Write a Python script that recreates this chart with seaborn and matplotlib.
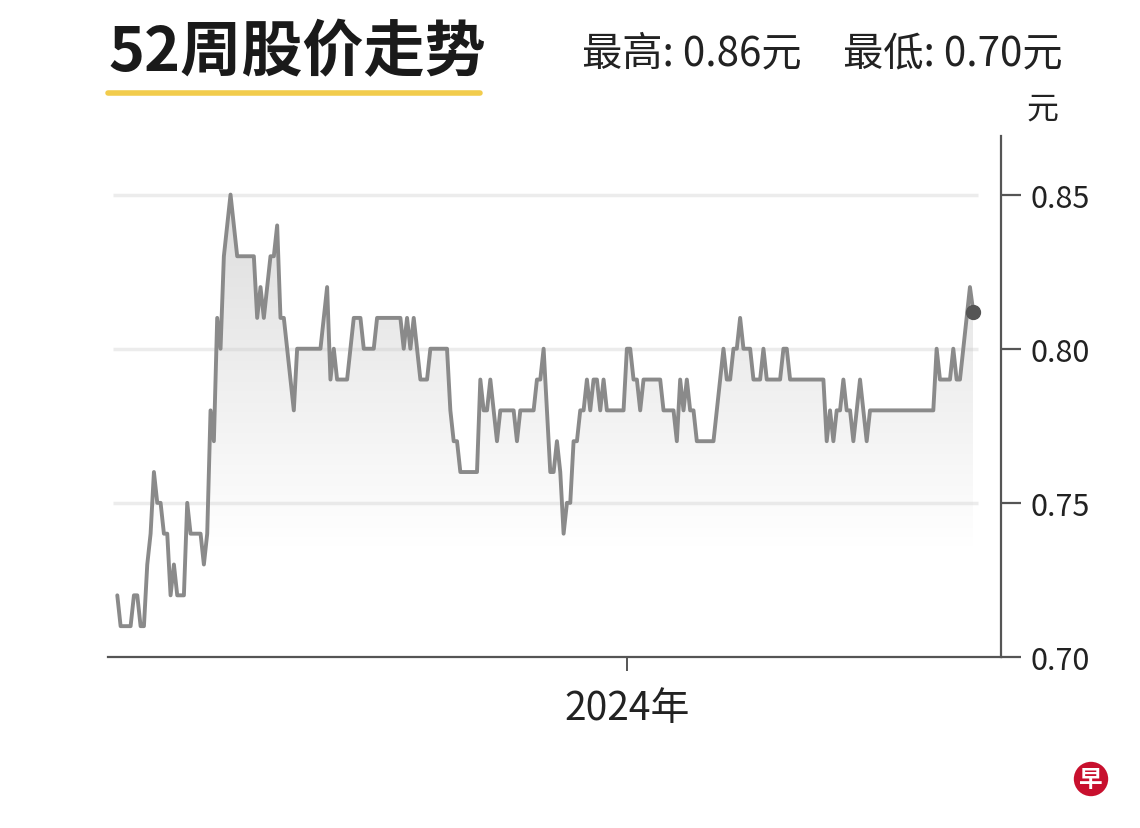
import numpy as np
import pandas as pd
import seaborn as sns
import matplotlib.pyplot as plt

# daily closing prices (trading days)
prices = [
    0.72, 0.71, 0.71, 0.71, 0.71, 0.72, 0.72, 0.71, 0.71, 0.73,
    0.74, 0.76, 0.75, 0.75, 0.74, 0.74, 0.72, 0.73, 0.72, 0.72,
    0.72, 0.75, 0.74, 0.74, 0.74, 0.74, 0.73, 0.74, 0.78, 0.77,
    0.81, 0.80, 0.83, 0.84, 0.85, 0.84, 0.83, 0.83, 0.83, 0.83,
    0.83, 0.83, 0.81, 0.82, 0.81, 0.82, 0.83, 0.83, 0.84, 0.81,
    0.81, 0.80, 0.79, 0.78, 0.80, 0.80, 0.80, 0.80, 0.80, 0.80,
    0.80, 0.80, 0.81, 0.82, 0.79, 0.80, 0.79, 0.79, 0.79, 0.79,
    0.80, 0.81, 0.81, 0.81, 0.80, 0.80, 0.80, 0.80, 0.81, 0.81,
    0.81, 0.81, 0.81, 0.81, 0.81, 0.81, 0.80, 0.81, 0.80, 0.81,
    0.80, 0.79, 0.79, 0.79, 0.80, 0.80, 0.80, 0.80, 0.80, 0.80,
    0.78, 0.77, 0.77, 0.76, 0.76, 0.76, 0.76, 0.76, 0.76, 0.79,
    0.78, 0.78, 0.79, 0.78, 0.77, 0.78, 0.78, 0.78, 0.78, 0.78,
    0.77, 0.78, 0.78, 0.78, 0.78, 0.78, 0.79, 0.79, 0.80, 0.78,
    0.76, 0.76, 0.77, 0.76, 0.74, 0.75, 0.75, 0.77, 0.77, 0.78,
    0.78, 0.79, 0.78, 0.79, 0.79, 0.78, 0.79, 0.78, 0.78, 0.78,
    0.78, 0.78, 0.78, 0.80, 0.80, 0.79, 0.79, 0.78, 0.79, 0.79,
    0.79, 0.79, 0.79, 0.79, 0.78, 0.78, 0.78, 0.78, 0.77, 0.79,
    0.78, 0.79, 0.78, 0.78, 0.77, 0.77, 0.77, 0.77, 0.77, 0.77,
    0.78, 0.79, 0.80, 0.79, 0.79, 0.80, 0.80, 0.81, 0.80, 0.80,
    0.80, 0.79, 0.79, 0.79, 0.80, 0.79, 0.79, 0.79, 0.79, 0.79,
    0.80, 0.80, 0.79, 0.79, 0.79, 0.79, 0.79, 0.79, 0.79, 0.79,
    0.79, 0.79, 0.79, 0.77, 0.78, 0.77, 0.78, 0.78, 0.79, 0.78,
    0.78, 0.77, 0.78, 0.79, 0.78, 0.77, 0.78, 0.78, 0.78, 0.78,
    0.78, 0.78, 0.78, 0.78, 0.78, 0.78, 0.78, 0.78, 0.78, 0.78,
    0.78, 0.78, 0.78, 0.78, 0.78, 0.78, 0.80, 0.79, 0.79, 0.79,
    0.79, 0.80, 0.79, 0.79, 0.80, 0.81, 0.82, 0.812,
]
dates = pd.bdate_range(end='2024-05-24', periods=len(prices))
y_ticks = [0.70, 0.75, 0.80, 0.85]
year_label = '2024年'
title = '52周股价走势'
high_txt = '最高: 0.86元'
low_txt = '最低: 0.70元'
unit = '元'

sns.set_style('white')
plt.rcParams['font.family'] = ['Noto Sans CJK SC', 'DejaVu Sans']

df = pd.DataFrame({'i': np.arange(len(prices)), 'price': prices, 'date': dates})
n = len(df)

fig = plt.figure(figsize=(11.4, 8.29), dpi=100)
ax = fig.add_axes([0.0947, 0.2063, 0.878 - 0.0947, 0.8347 - 0.2063])

# faint grid
ax.hlines([0.75, 0.80, 0.85], -1.3, n + 0.5, color='#ececec', lw=2.5, zorder=0)

# gradient under the line
lv = np.linspace(0.70, 0.86, 300)
rgba = np.zeros((300, 1, 4))
rgba[..., :3] = 0.78
rgba[:, 0, 3] = np.clip((lv - 0.735) / (0.85 - 0.735), 0, 1) * 0.6
poly = ax.fill_between(df['i'], df['price'], 0.70, color='none', lw=0)
im = ax.imshow(rgba, origin='lower', aspect='auto',
               extent=[0, n - 1, 0.70, 0.86], zorder=1)
im.set_clip_path(poly.get_paths()[0], ax.transData)

sns.lineplot(data=df, x='i', y='price', ax=ax, color='#8a8a8a', lw=2.8, zorder=3)
ax.plot(df['i'].iloc[-1], df['price'].iloc[-1], 'o', color='#555555', ms=10, zorder=4)

ax.set_xlim(-2.8, 265.3)
ax.set_ylim(0.70, 0.869)

for s in ['left', 'top']:
    ax.spines[s].set_visible(False)
for s in ['right', 'bottom']:
    ax.spines[s].set_color('#555555')
    ax.spines[s].set_linewidth(1.6)

ax.set_yticks(y_ticks)
ax.set_yticklabels([f'{v:.2f}' for v in y_ticks])
ax.yaxis.set_ticks_position('right')
ax.tick_params(axis='y', length=0, labelsize=22, pad=21, labelcolor='#222222')

year_pos = np.searchsorted(dates, pd.Timestamp('2024-01-01'))
ax.set_xticks([year_pos])
ax.set_xticklabels([year_label])
ax.tick_params(axis='x', bottom=True, direction='out', length=10, width=1.4,
               color='#555555', labelsize=28, pad=12, labelcolor='#222222')
ax.set_xlabel('')
ax.set_ylabel('')

# outward tick marks on the right spine, placed in figure space
x_spine = ax.get_position().x1
for v in y_ticks:
    y_fig = fig.transFigure.inverted().transform(ax.transData.transform((0, v)))[1]
    fig.add_artist(plt.Line2D([x_spine, x_spine + 20 / 1140], [y_fig, y_fig],
                              color='#555555', lw=1.6, solid_capstyle='butt'))

# header
fig.text(108 / 1140, 1 - 53 / 829, title, fontsize=44, fontweight='bold',
         color='#1a1a1a', ha='left', va='center')
fig.add_artist(plt.Line2D([108 / 1140, 480 / 1140], [1 - 94 / 829] * 2,
                          color='#f2cc4c', lw=4))
fig.text(582 / 1140, 1 - 54 / 829, high_txt, fontsize=29, color='#222222',
         ha='left', va='center')
fig.text(843 / 1140, 1 - 54 / 829, low_txt, fontsize=29, color='#222222',
         ha='left', va='center')
fig.text(1042 / 1140, 1 - 110 / 829, unit, fontsize=23, color='#222222',
         ha='center', va='center')

# logo
fig.text(1091 / 1140, 1 - 780 / 829, '早', fontsize=17, fontweight='bold',
         color='white', ha='center', va='center',
         bbox=dict(boxstyle='circle,pad=0.22', fc='#c8102e', ec='none'))

fig.savefig('out.png', dpi=100)
